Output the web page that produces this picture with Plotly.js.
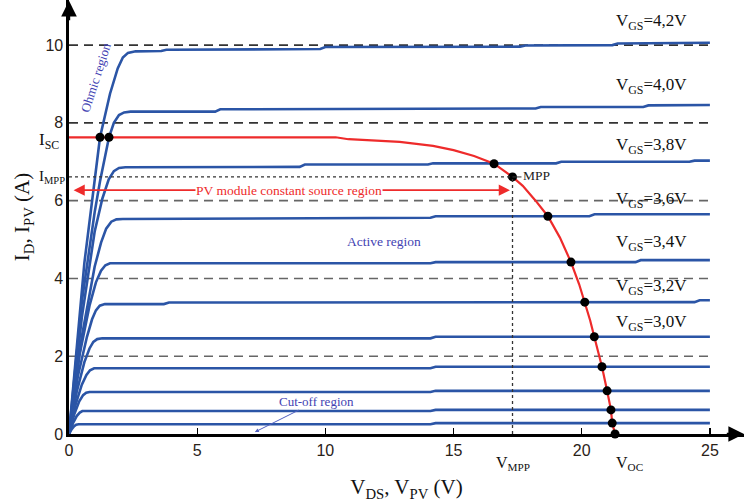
<!DOCTYPE html>
<html>
<head>
<meta charset="utf-8">
<script src="https://cdn.plot.ly/plotly-3.0.1.min.js"></script>
<style>html,body{margin:0;padding:0;background:#fff;}#chart{width:744px;height:504px;}</style>
</head>
<body>
<div id="chart"></div>
<script>
// ---- MOSFET output curves (V_DS, I_D) ----
const vds_42 = [0,0.6,1.21,1.6,1.9,2.1,2.3,2.6,3.6,3.8,9.8,10.0,17.6,17.8,21.2,21.4,25];
const id_42  = [0,4.4,7.63,8.75,9.4,9.68,9.8,9.84,9.85,9.88,9.9,9.95,9.96,9.99,10.0,10.04,10.06];
const vds_40 = [0,0.5,1.0,1.21,1.56,1.75,1.95,2.15,2.4,5.7,5.9,18.2,18.4,22.4,22.6,25];
const id_40  = [0,3.4,5.7,6.5,7.63,8.0,8.2,8.27,8.29,8.29,8.35,8.37,8.41,8.41,8.45,8.46];
const vds_38 = [0,0.5,1.0,1.3,1.55,1.75,1.95,2.2,9.0,9.2,14.0,14.2,19.0,19.2,24.2,24.4,25];
const id_38  = [0,3.0,5.2,6.05,6.55,6.76,6.84,6.86,6.87,6.93,6.93,6.96,6.96,7.0,7.0,7.03,7.03];
const vds_36 = [0,0.5,1.0,1.25,1.45,1.65,1.85,2.1,14.1,14.3,20.3,20.5,25];
const id_36  = [0,2.5,4.3,4.92,5.28,5.46,5.52,5.53,5.56,5.6,5.6,5.65,5.65];
const vds_34 = [0,0.4,0.8,1.05,1.25,1.42,1.6,1.8,14.1,14.3,22.1,22.3,25];
const id_34  = [0,2.0,3.3,3.9,4.2,4.34,4.39,4.39,4.39,4.42,4.42,4.47,4.47];
const vds_32 = [0,0.35,0.7,0.9,1.05,1.2,1.4,3.7,3.9,24.4,24.6,25];
const id_32  = [0,1.5,2.5,2.95,3.18,3.3,3.34,3.34,3.38,3.39,3.44,3.44];
const vds_30 = [0,0.3,0.6,0.8,0.95,1.1,1.3,14.1,14.3,25];
const id_30  = [0,1.08,1.85,2.2,2.37,2.44,2.46,2.46,2.5,2.5];
const vds_28 = [0,0.25,0.5,0.68,0.82,0.98,14.1,14.3,25];
const id_28  = [0,0.74,1.27,1.52,1.64,1.69,1.69,1.73,1.73];
const vds_26 = [0,0.2,0.4,0.55,0.67,0.8,14.1,14.3,25];
const id_26  = [0,0.5,0.84,1.0,1.06,1.08,1.08,1.11,1.11];
const vds_24 = [0,0.15,0.3,0.42,0.52,0.62,14.1,14.3,25];
const id_24  = [0,0.27,0.46,0.55,0.59,0.59,0.59,0.62,0.62];
const vds_22 = [0,0.1,0.2,0.28,0.38,14.1,14.3,25];
const id_22  = [0,0.12,0.2,0.24,0.25,0.25,0.28,0.28];

// ---- PV module I-V curve ----
const vpv = [0,10.4,10.9,12.0,12.9,14.2,15.0,15.8,16.58,17.3,17.7,18.2,18.68,19.15,19.58,19.9,20.12,20.33,20.49,20.66,20.79,20.99,21.14,21.19,21.3];
const ipv = [7.63,7.63,7.58,7.55,7.51,7.41,7.3,7.15,6.95,6.61,6.38,6.0,5.6,5.05,4.42,3.85,3.39,2.92,2.5,2.08,1.73,1.11,0.62,0.28,0];

// ---- operating points (intersections) ----
const opV = [1.21,1.56,16.58,17.3,18.68,19.58,20.12,20.49,20.79,20.99,21.14,21.19,21.3];
const opI = [7.63,7.63,6.95,6.61,5.6,4.42,3.39,2.5,1.73,1.11,0.62,0.28,0];

const vMpp = 17.3, iMpp = 6.61, iSc = 7.63, vOc = 21.3;
const gridLevels = [2,4,6,8,10];
const xTicks = [0,5,10,15,20,25];
const yTicks = [0,2,4,6,8,10];
const vgsText = ['4,2','4,0','3,8','3,6','3,4','3,2','3,0'];
const vgsLabelI = [10.59,8.95,7.40,6.02,4.91,3.78,2.85];

const blue = '#2b55a6';
const red = '#ee2b2b';
const serif = 'Liberation Serif, Times New Roman, serif';
const regionColor = '#4343b3';

const curves = [[vds_42,id_42],[vds_40,id_40],[vds_38,id_38],[vds_36,id_36],[vds_34,id_34],[vds_32,id_32],[vds_30,id_30],[vds_28,id_28],[vds_26,id_26],[vds_24,id_24],[vds_22,id_22]];

const traces = curves.map(c => ({
  x: c[0], y: c[1], mode: 'lines', type: 'scatter',
  line: {color: blue, width: 2.6, shape: 'linear'},
  hoverinfo: 'skip', showlegend: false
}));
traces.push({
  x: vpv, y: ipv, mode: 'lines', type: 'scatter',
  line: {color: red, width: 2.2, shape: 'linear'},
  hoverinfo: 'skip', showlegend: false
});
traces.push({
  x: opV, y: opI, mode: 'markers', type: 'scatter', cliponaxis: false,
  marker: {color: '#000', size: 9},
  hoverinfo: 'skip', showlegend: false
});

const shapes = gridLevels.map(g => ({
  type: 'line', xref: 'x', yref: 'y', x0: 0, x1: 25, y0: g, y1: g,
  line: {color: g >= 8 ? '#333' : '#666', width: 1.6, dash: '9px,6px'}, layer: 'below'
}));
shapes.push({type:'line', xref:'x', yref:'y', x0:0, x1:vMpp, y0:iMpp, y1:iMpp, line:{color:'#333', width:1.3, dash:'dot'}});
shapes.push({type:'line', xref:'x', yref:'y', x0:vMpp, x1:vMpp, y0:0, y1:iMpp, line:{color:'#333', width:1.3, dash:'dot'}});
shapes.push({type:'line', xref:'x', yref:'y', x0:vMpp, x1:vMpp+0.35, y0:iMpp, y1:iMpp, line:{color:'#333', width:1}});

const annotations = [];
vgsText.forEach((t,i) => annotations.push({
  x: 21.25, y: vgsLabelI[i], xref:'x', yref:'y', xanchor:'left', yanchor:'middle',
  text: 'V<sub>GS</sub>=' + t + 'V', showarrow:false,
  font:{family: serif, size: 17, color:'#111'}
}));
// axis arrows
annotations.push({x:26.33, y:0, ax:25.6, ay:0, xref:'x', yref:'y', axref:'x', ayref:'y', showarrow:true, arrowhead:2, arrowsize:1.3, arrowwidth:2.4, arrowcolor:'#000', text:''});
annotations.push({x:0, y:11.14, ax:0, ay:10.6, xref:'x', yref:'y', axref:'x', ayref:'y', showarrow:true, arrowhead:2, arrowsize:1.3, arrowwidth:2.4, arrowcolor:'#000', text:''});
// PV constant source double arrow
annotations.push({x:17.2, y:6.27, ax:0.12, ay:6.27, xref:'x', yref:'y', axref:'x', ayref:'y', showarrow:true, arrowhead:2, startarrowhead:2, arrowside:'end+start', arrowsize:1.4, arrowwidth:1.6, arrowcolor:red, text:''});
annotations.push({x:8.6, y:6.27, xref:'x', yref:'y', text:'PV module constant source region', showarrow:false, bgcolor:'#fff', borderpad:0, font:{family:serif, size:13.5, color:red}});
// regions
annotations.push({x:1.03, y:9.18, xref:'x', yref:'y', text:'Ohmic region', showarrow:false, textangle:-72, font:{family:serif, size:13, color:regionColor}});
annotations.push({x:12.3, y:4.96, xref:'x', yref:'y', text:'Active region', showarrow:false, font:{family:serif, size:13.5, color:regionColor}});
annotations.push({x:7.25, y:0.05, xref:'x', yref:'y', ax:62, ay:-31, text:'Cut-off region', showarrow:true, arrowhead:2, arrowsize:0.8, arrowwidth:1, arrowcolor:'#5060c0', standoff:0, font:{family:serif, size:13, color:regionColor}});
// special point labels
annotations.push({x:vMpp+0.35, y:iMpp+0.05, xref:'x', yref:'y', xanchor:'left', text:'MPP', showarrow:false, font:{family:serif, size:13.5, color:'#222'}});
annotations.push({x:0, y:iSc-0.1, xref:'x', yref:'y', xanchor:'right', xshift:-8, text:'I<sub>SC</sub>', showarrow:false, font:{family:serif, size:17, color:'#111'}});
annotations.push({x:0, y:iMpp, xref:'x', yref:'y', xanchor:'right', xshift:-2, text:'I<sub>MPP</sub>', showarrow:false, font:{family:serif, size:15, color:'#111'}});
annotations.push({x:vMpp, y:0, xref:'x', yref:'y', yanchor:'top', yshift:-18, text:'V<sub>MPP</sub>', showarrow:false, font:{family:serif, size:16, color:'#111'}});
annotations.push({x:vOc+0.55, y:0, xref:'x', yref:'y', yanchor:'top', yshift:-18, text:'V<sub>OC</sub>', showarrow:false, font:{family:serif, size:16, color:'#111'}});

const layout = {
  width: 744, height: 504,
  margin: {l: 69, r: 0, t: 0, b: 70, pad: 0},
  paper_bgcolor: '#fff', plot_bgcolor: '#fff',
  showlegend: false,
  xaxis: {
    range: [0, 26.33], showgrid: false, zeroline: false,
    showline: true, linecolor: '#000', linewidth: 2.6,
    tickvals: xTicks, ticktext: xTicks.map(String),
    ticks: 'inside', ticklen: 6, tickwidth: 1.2, tickcolor: '#000',
    tickfont: {family: 'Liberation Sans, Arial, sans-serif', size: 16, color: '#2a2218'},
    title: {text: 'V<sub>DS</sub>, V<sub>PV</sub> (V)', font: {family: serif, size: 21, color: '#111'}, standoff: 22}
  },
  yaxis: {
    range: [0, 11.16], showgrid: false, zeroline: false,
    showline: true, linecolor: '#000', linewidth: 2.6,
    tickvals: yTicks, ticktext: yTicks.map(String),
    ticks: '',
    tickfont: {family: 'Liberation Sans, Arial, sans-serif', size: 16, color: '#2a2218'},
    title: {text: 'I<sub>D</sub>, I<sub>PV</sub> (A)', font: {family: serif, size: 21, color: '#111'}, standoff: 10}
  },
  shapes: shapes,
  annotations: annotations
};

Plotly.newPlot('chart', traces, layout, {staticPlot: true, displayModeBar: false});
</script>
</body>
</html>
